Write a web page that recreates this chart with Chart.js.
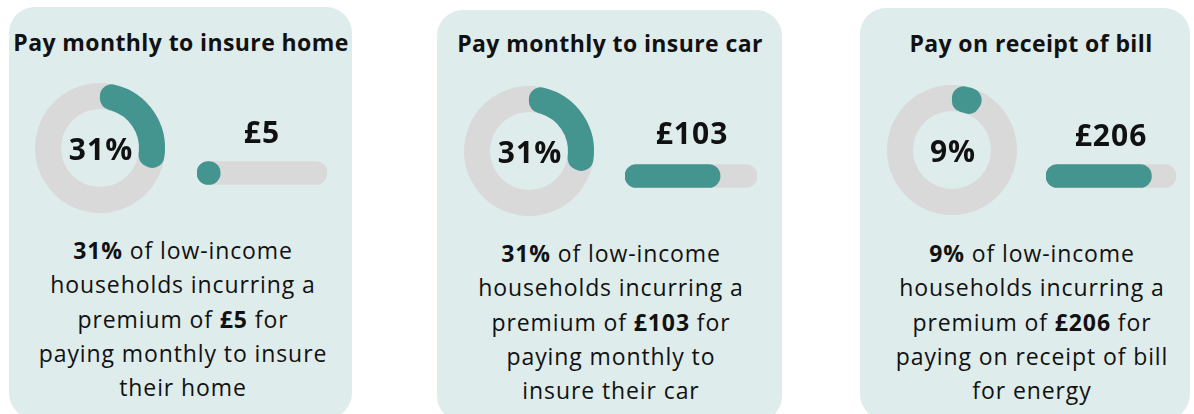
<!DOCTYPE html>
<html>
<head>
<meta charset="utf-8">
<script src="https://cdn.jsdelivr.net/npm/chart.js@4.4.1/dist/chart.umd.min.js"></script>
<style>
  html, body { margin: 0; padding: 0; background: #fff; }
  body { width: 1194px; height: 414px; position: relative; overflow: hidden; font-family: "Open Sans", "Noto Sans", sans-serif; color: #111; }
  .card { position: absolute; background: #dfecec; border-radius: 26px; }
  .title { position: absolute; font-weight: 700; font-size: 23px; letter-spacing: 0.4px; line-height: 30px; white-space: nowrap; transform: translate(-50%, -50%); }
  .pct, .amt { position: absolute; font-weight: 700; font-size: 30px; letter-spacing: 1px; line-height: 36px; white-space: nowrap; transform: translate(-50%, -50%); }
  .body { position: absolute; font-size: 23px; letter-spacing: 0.9px; line-height: 34.3px; text-align: center; white-space: nowrap; transform: translateX(-50%); }
  canvas { position: absolute; }
</style>
</head>
<body>
<script>
// values
const titles = ['Pay monthly to insure home', 'Pay monthly to insure car', 'Pay on receipt of bill'];
const sharePct = [31, 31, 9];
const premiums = [5, 103, 206];
const barMax = [28, 143, 254];
const bodyLines = [
  ['<b>31%</b> of low-income', 'households incurring a', 'premium of <b>£5</b> for', 'paying monthly to insure', 'their home'],
  ['<b>31%</b> of low-income', 'households incurring a', 'premium of <b>£103</b> for', 'paying monthly to', 'insure their car'],
  ['<b>9%</b> of low-income', 'households incurring a', 'premium of <b>£206</b> for', 'paying on receipt of bill', 'for energy']
];

const teal = '#44958f';
const grey = '#d9d9d9';

// layout of each card (pixels)
const layout = [
  { card: [9, 7, 343, 412], title: [181, 42], donut: [100, 148], bar: [197, 130, 173], amt: [262, 132], text: [183, 233] },
  { card: [437, 10, 345, 412], title: [610, 43], donut: [529, 151], bar: [625, 132, 176], amt: [692, 133], text: [611, 236] },
  { card: [860, 8, 330, 412], title: [1031, 43], donut: [952, 150], bar: [1046, 130, 175.5], amt: [1111, 135], text: [1032, 236] }
];

// full grey ring behind the teal arc
const ringTrack = {
  id: 'ringTrack',
  beforeDatasetsDraw(chart) {
    const arc = chart.getDatasetMeta(0).data[0];
    if (!arc) return;
    const ctx = chart.ctx;
    ctx.save();
    ctx.beginPath();
    ctx.arc(arc.x, arc.y, arc.outerRadius, 0, Math.PI * 2);
    ctx.arc(arc.x, arc.y, arc.innerRadius, 0, Math.PI * 2, true);
    ctx.fillStyle = grey;
    ctx.fill();
    ctx.restore();
  }
};

function el(tag, cls, html, css) {
  const e = document.createElement(tag);
  if (cls) e.className = cls;
  if (html) e.innerHTML = html;
  Object.assign(e.style, css || {});
  document.body.appendChild(e);
  return e;
}

layout.forEach((L, i) => {
  const [cx, cy, cw, ch] = L.card;
  el('div', 'card', '', { left: cx + 'px', top: cy + 'px', width: cw + 'px', height: ch + 'px' });
  el('div', 'title', titles[i], { left: L.title[0] + 'px', top: L.title[1] + 'px' });

  // doughnut
  const size = 140;
  const dc = el('canvas', '', '', { left: (L.donut[0] - size / 2) + 'px', top: (L.donut[1] - size / 2) + 'px' });
  dc.width = size; dc.height = size;
  new Chart(dc, {
    type: 'doughnut',
    data: {
      labels: ['share', 'rest'],
      datasets: [{
        data: [sharePct[i], 100 - sharePct[i]],
        backgroundColor: [teal, 'rgba(0,0,0,0)'],
        borderWidth: 0,
        borderRadius: [12, 0]
      }]
    },
    options: {
      responsive: false,
      animation: false,
      radius: 65,
      cutout: 42,
      plugins: { legend: { display: false }, tooltip: { enabled: false } }
    },
    plugins: [ringTrack]
  });
  el('div', 'pct', sharePct[i] + '%', { left: (L.donut[0] + 1) + 'px', top: (L.donut[1] + 1) + 'px' });

  // progress bar
  const [bx, bw, by] = L.bar;
  const bh = 30;
  const bc = el('canvas', '', '', { left: bx + 'px', top: (by - bh / 2) + 'px' });
  bc.width = bw; bc.height = bh;
  new Chart(bc, {
    type: 'bar',
    data: {
      labels: [''],
      datasets: [
        { data: [premiums[i]], backgroundColor: teal },
        { data: [barMax[i]], backgroundColor: grey }
      ]
    },
    options: {
      responsive: false,
      animation: false,
      indexAxis: 'y',
      layout: { padding: 0 },
      datasets: { bar: { grouped: false, barThickness: 23, borderRadius: 12, borderSkipped: false } },
      scales: {
        x: { display: false, min: 0, max: barMax[i] },
        y: { display: false }
      },
      plugins: { legend: { display: false }, tooltip: { enabled: false } }
    }
  });
  el('div', 'amt', '£' + premiums[i], { left: L.amt[0] + 'px', top: L.amt[1] + 'px' });

  el('div', 'body', bodyLines[i].join('<br>'), { left: L.text[0] + 'px', top: L.text[1] + 'px' });
});
</script>
</body>
</html>
